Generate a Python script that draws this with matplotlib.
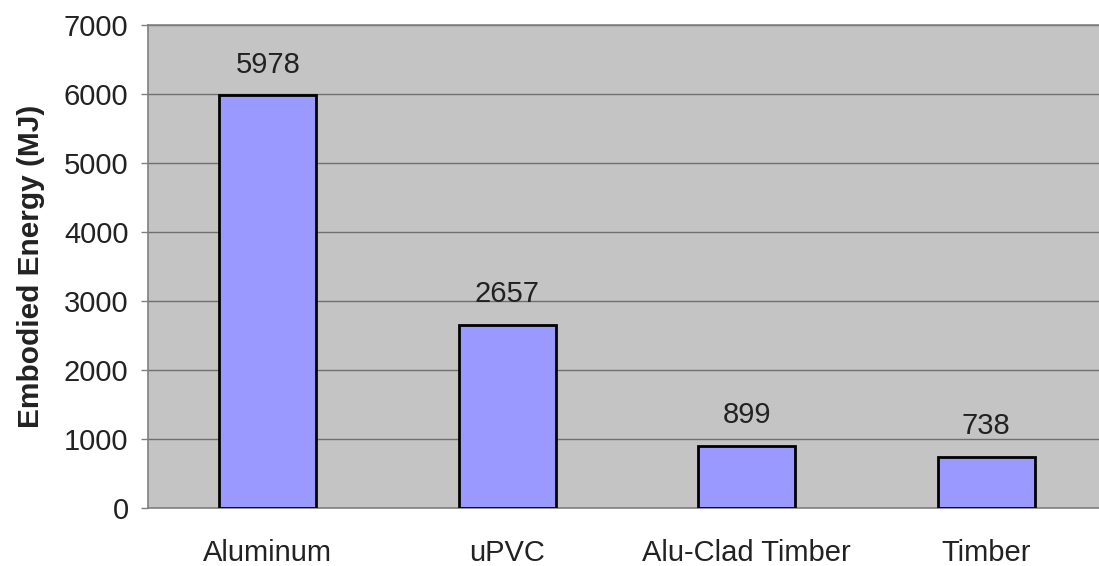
import matplotlib
matplotlib.use("Agg")
import matplotlib.pyplot as plt

categories = ["Aluminum", "uPVC", "Alu-Clad Timber", "Timber"]
energy_mj = [5978, 2657, 899, 738]
y_ticks = [0, 1000, 2000, 3000, 4000, 5000, 6000, 7000]

plt.rcParams["font.family"] = ["Liberation Sans", "DejaVu Sans"]

fig = plt.figure(figsize=(10.99, 5.66), dpi=100)
ax = fig.add_axes([0.1347, 0.1025, 0.8717, 0.8534])
ax.set_facecolor("#c4c4c4")

x = list(range(len(categories)))
bars = ax.bar(x, energy_mj, width=0.405, color="#9999ff",
              edgecolor="black", linewidth=2.0, zorder=3)

for xi, v in zip(x, energy_mj):
    ax.annotate(str(v), (xi, v), xytext=(0, 12), textcoords="offset points",
                ha="center", va="bottom", fontsize=21, color="#222222")

ax.set_xlim(-0.5, len(categories) - 0.5)
ax.set_ylim(0, 7000)
ax.set_yticks(y_ticks)
ax.set_yticklabels([str(t) for t in y_ticks], fontsize=21, color="#222222")
ax.set_xticks(x)
ax.set_xticklabels(categories, fontsize=21, color="#222222")

ax.yaxis.grid(True, color="#6f6f6f", linewidth=1.0, zorder=1)
ax.set_axisbelow(True)

ax.tick_params(axis="y", length=5, width=1, color="#808080", pad=9)
ax.tick_params(axis="x", length=0, pad=22)

for side in ["left", "top", "bottom"]:
    ax.spines[side].set_color("#808080")
    ax.spines[side].set_linewidth(1.2)
ax.spines["right"].set_visible(False)

ax.set_ylabel("Embodied Energy (MJ)", fontsize=21.5, fontweight="bold",
              color="#222222", labelpad=14)

fig.savefig("out.png", dpi=100, facecolor="white")
